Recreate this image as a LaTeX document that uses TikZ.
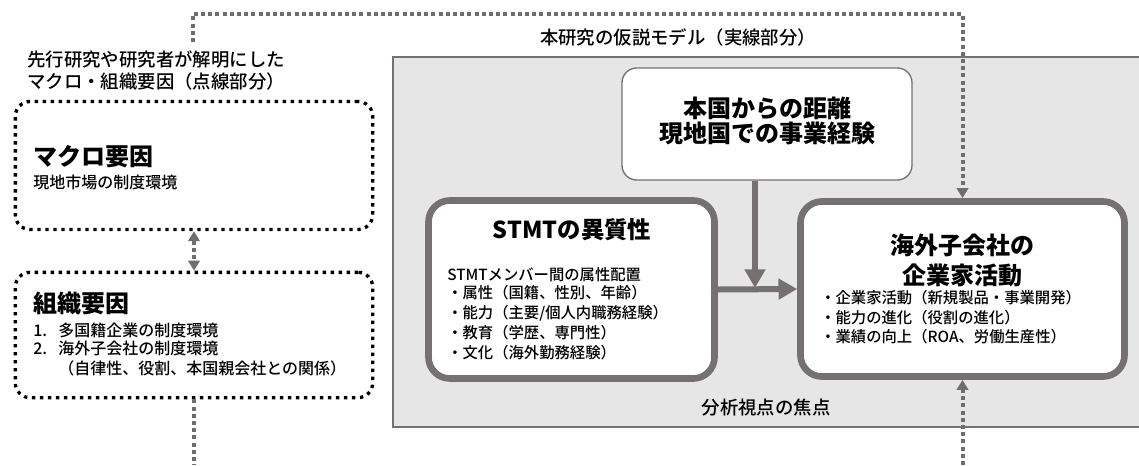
\documentclass[tikz,border=0pt]{standalone}
\usepackage{fontspec}
\setmainfont{Noto Sans CJK JP}
\newfontfamily\medfont{Noto Sans CJK JP Medium}
\usetikzlibrary{arrows.meta}
\definecolor{dg}{HTML}{767171}
\definecolor{lg}{HTML}{E7E6E6}
\definecolor{dotg}{HTML}{6E6E6E}
\tikzset{
  dotbox/.style={draw=black, line width=2.5pt, dash pattern=on 2.5pt off 3.5pt, rounded corners=11pt, inner sep=0pt},
  thickbox/.style={draw=dg, line width=5pt, fill=white, rounded corners=16pt, inner sep=0pt},
  thinbox/.style={draw=dg, line width=1pt, fill=white, rounded corners=11pt, inner sep=0pt},
  dotline/.style={draw=dotg, line width=3pt, dash pattern=on 3pt off 2.4pt},
  dottip/.style={-{Triangle[width=8.5pt,length=7.5pt]}},
  dotboth/.style={{Triangle[width=8.5pt,length=7.5pt]}-{Triangle[width=8.5pt,length=7.5pt]}},
  thickarrow/.style={draw=dg, line width=4.5pt, -{Triangle[width=15pt,length=14pt]}},
  txt/.style={inner sep=0pt, text=black},
  head/.style={txt, font=\fontsize{18pt}{18.75pt}\selectfont\bfseries},
  small/.style={txt, font=\fontsize{11.5pt}{15pt}\selectfont\medfont},
  mid/.style={txt, font=\fontsize{13.8pt}{16.5pt}\selectfont\medfont},
  orgitem/.style={txt, anchor=west, font=\fontsize{12pt}{14pt}\selectfont\medfont},
}
\begin{document}
\begin{tikzpicture}[x=0.75pt,y=-0.75pt]
\useasboundingbox (0,0) rectangle (1139,465);
\clip (0,0) rectangle (1139,465);
\fill[white] (0,0) rectangle (1139,465);

% focus area
\draw[draw=dg, line width=2.2pt, fill=lg] (393,57) rectangle (1160,427);
\node[mid] (focus) at (766,408) {分析視点の焦点};
\node[mid] (model) at (678,37) {本研究の仮説モデル（実線部分）};

% left label
\node[mid, anchor=west, align=left] (prior) at (27,71) {先行研究や研究者が解明にした\\マクロ・組織要因（点線部分）};

% macro box
\node[dotbox, minimum width=268pt, minimum height=96pt] (macro) at (194,165.5) {};
\node[head, anchor=west] (macrot) at (33,157) {マクロ要因};
\node[orgitem] (macros) at (33,182) {現地市場の制度環境};

% organisation box
\node[dotbox, minimum width=268pt, minimum height=94pt] (org) at (194,335) {};
\node[head, anchor=west] (orgt) at (33,303) {組織要因};
\node[orgitem] (org1) at (33,330) {\makebox[18.75pt][l]{1.}多国籍企業の制度環境};
\node[orgitem] (org2) at (33,348) {\makebox[18.75pt][l]{2.}海外子会社の制度環境};
\node[orgitem] (org3) at (33,368) {\hspace*{18.75pt}（自律性、役割、本国親会社との関係）};

% top box
\node[thinbox, minimum width=217.5pt, minimum height=84pt] (home) at (767,124) {};
\node[head, align=center] (homet) at (767,120.5) {本国からの距離\\現地国での事業経験};

% STMT box
\node[thickbox, minimum width=214.5pt, minimum height=133.5pt] (stmt) at (571.5,289.5) {};
\node[txt, font=\fontsize{17.5pt}{18pt}\selectfont\bfseries] (stmtt) at (572,230) {STMTの異質性};
\node[small, anchor=west, align=left] (stmts) at (447,275) {STMTメンバー間の属性配置};
\node[small, anchor=west] (stmt1) at (447,293) {・属性（国籍、性別、年齢）};
\node[small, anchor=west] (stmt2) at (447,313) {・能力（主要/個人内職務経験）};
\node[small, anchor=west] (stmt3) at (447,333) {・教育（学歴、専門性）};
\node[small, anchor=west] (stmt4) at (447,353) {・文化（海外勤務経験）};

% subsidiary box
\node[thickbox, minimum width=243pt, minimum height=131.25pt] (sub) at (962.5,289) {};
\node[txt, align=center, font=\fontsize{18pt}{22.5pt}\selectfont\bfseries] (subt) at (962,260) {海外子会社の\\企業家活動};
\node[small, anchor=west] (sub1) at (820,298) {・企業家活動（新規製品・事業開発）};
\node[small, anchor=west] (sub2) at (820,318) {・能力の進化（役割の進化）};
\node[small, anchor=west] (sub3) at (820,337) {・業績の向上（ROA、労働生産性）};

% solid arrows
\coordinate (join) at (755,288);
\draw[thickarrow] (stmt.east) -- (sub.west);
\draw[thickarrow] (home.south -| join) -- (join);

% dotted connectors
\coordinate (tl) at (193,42);
\coordinate (tr) at (962.5,14);
\coordinate (bl) at (194,465);
\coordinate (br) at (962.5,465);
\draw[dotline, dottip] (tl) |- (tr) -- (sub.north);
\draw[dotline, dotboth] (macro.south) -- (org.north);
\draw[dotline] (org.south) -- (bl);
\draw[dotline, dottip] (br) -- (sub.south);
\end{tikzpicture}
\end{document}
